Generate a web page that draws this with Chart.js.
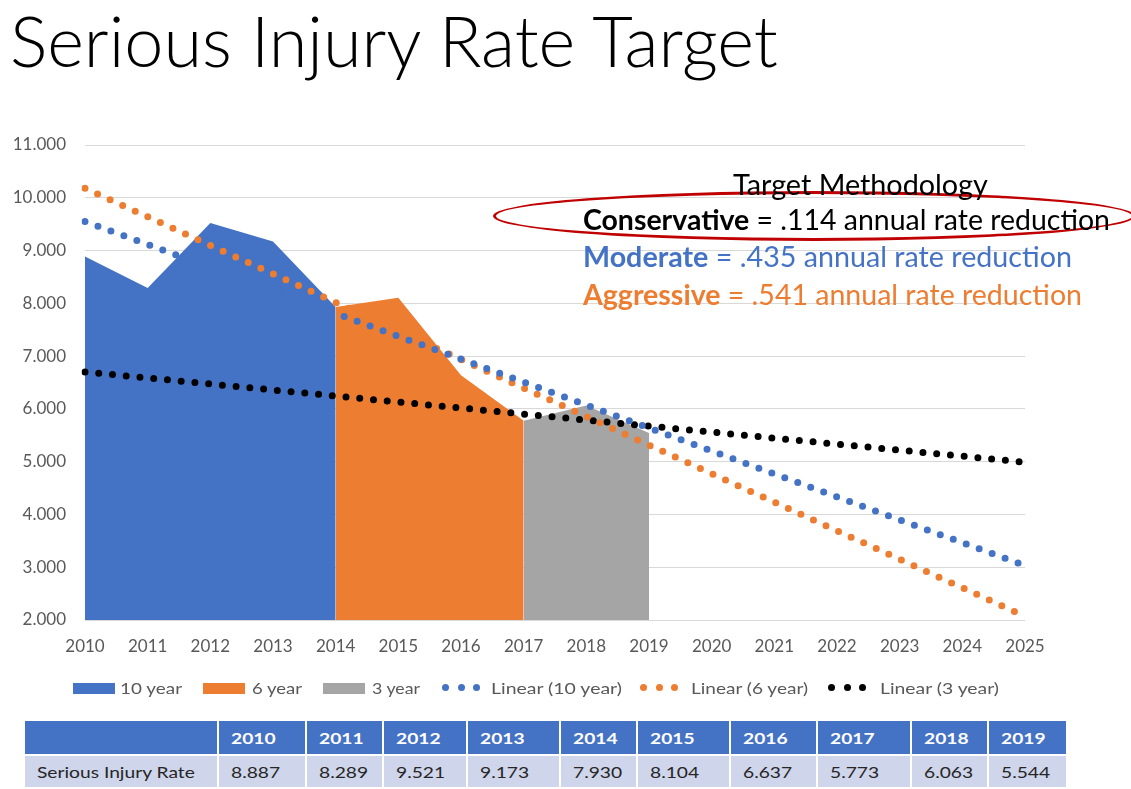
<!DOCTYPE html>
<html>
<head>
<meta charset="utf-8">
<script src="https://cdn.jsdelivr.net/npm/chart.js@4.4.1/dist/chart.umd.min.js"></script>
<style>
  html, body { margin: 0; padding: 0; background: #fff; }
  #page { position: relative; width: 1131px; height: 789px; overflow: hidden; font-family: Lato, "Open Sans", sans-serif; }
  #title { position: absolute; left: 10px; top: 2px; font-size: 64px; font-weight: 300; color: #000; white-space: nowrap; line-height: 1.1; }
  #chartBox { position: absolute; left: 0; top: 0; width: 1131px; height: 700px; }
  .note { position: absolute; white-space: nowrap; font-size: 24px; line-height: 1; }
  #ellipse { position: absolute; left: 493px; top: 191px; width: 642px; height: 50px; border: 3px solid #C00000; border-radius: 50%; box-sizing: border-box; }
  .leg { position: absolute; top: 678px; font-size: 16px; color: #595959; white-space: nowrap; line-height: 20px; transform-origin: left center; }
  .box { position: absolute; top: 683px; height: 11px; width: 42px; }
  .dot { position: absolute; top: 684px; width: 7px; height: 7px; border-radius: 50%; }
  #tbl { position: absolute; left: 23px; top: 719px; border-collapse: collapse; font-size: 16px; table-layout: fixed; }
  #tbl td { border: 2px solid #fff; padding: 0 0 0 12px; white-space: nowrap; overflow: hidden; }
  #tbl td span { display: inline-block; transform: scaleX(1.2); transform-origin: left center; }
  #tbl tr.h td { background: #4472C4; color: #fff; font-weight: bold; height: 33px; }
  #tbl tr.d td { background: #CFD5EA; color: #262626; height: 31px; }
</style>
</head>
<body>
<div id="page">
  <div id="chartBox"><canvas id="chart"></canvas></div>
  <div id="title" data-w="768">Serious Injury Rate Target</div>

  <div id="ellipse"></div>
  <div class="note" id="nTitle" style="left:733px; top:170px; color:#000; font-size:22px;" data-w="255">Target Methodology</div>
  <div class="note" style="left:583px; top:205px; color:#000;" data-w="527"><b>Conservative</b> = .114 annual rate reduction</div>
  <div class="note" style="left:583px; top:242px; color:#4472C4;" data-w="489"><b>Moderate</b> = .435 annual rate reduction</div>
  <div class="note" style="left:583px; top:280px; color:#ED7D31;" data-w="499"><b>Aggressive</b> = .541 annual rate reduction</div>

  <div id="legend"></div>
  <table id="tbl"></table>
</div>
<script>
// chart values
const years = ["2010","2011","2012","2013","2014","2015","2016","2017","2018","2019","2020","2021","2022","2023","2024","2025"];
const injuryRate = [8.887, 8.289, 9.521, 9.173, 7.930, 8.104, 6.637, 5.773, 6.063, 5.544];
const tenYear   = [8.887, 8.289, 9.521, 9.173, 7.930, null, null, null, null, null, null, null, null, null, null, null];
const sixYear   = [null, null, null, null, 7.930, 8.104, 6.637, 5.773, null, null, null, null, null, null, null, null];
const threeYear = [null, null, null, null, null, null, null, 5.773, 6.063, 5.544, null, null, null, null, null, null];
// trend lines read at both ends (2010, 2025)
const linear10 = [9.55, null, null, null, null, null, null, null, null, null, null, null, null, null, null, 3.03];
const linear6  = [10.18, null, null, null, null, null, null, null, null, null, null, null, null, null, null, 2.07];
const linear3  = [6.70, null, null, null, null, null, null, null, null, null, null, null, null, null, null, 4.99];
const yTicks = [2, 3, 4, 5, 6, 7, 8, 9, 10, 11];

const BLUE = "#4472C4", ORANGE = "#ED7D31", GRAY = "#A5A5A5", BLACK = "#000000";
const TICK_FONT = { family: "Lato, 'Open Sans', sans-serif", size: 17 };

function areaSet(label, data, color) {
  return { label, data, backgroundColor: color, borderColor: color, borderWidth: 0,
    fill: "start", pointRadius: 0, tension: 0, order: 2, spanGaps: false };
}
function trendSet(label, data, color) {
  return { label, data, borderColor: color, backgroundColor: color, borderWidth: 7,
    borderDash: [0, 13.8], borderCapStyle: "round", fill: false, pointRadius: 0,
    spanGaps: true, tension: 0, order: 1 };
}

new Chart(document.getElementById("chart"), {
  type: "line",
  data: {
    labels: years,
    datasets: [
      trendSet("Linear (10 year)", linear10, BLUE),
      trendSet("Linear (6 year)", linear6, ORANGE),
      trendSet("Linear (3 year)", linear3, BLACK),
      areaSet("10 year", tenYear, BLUE),
      areaSet("6 year", sixYear, ORANGE),
      areaSet("3 year", threeYear, GRAY)
    ]
  },
  options: {
    responsive: true,
    maintainAspectRatio: false,
    animation: false,
    devicePixelRatio: 1,
    layout: { padding: { top: 145, right: 106, bottom: 0, left: 0 } },
    plugins: { legend: { display: false }, tooltip: { enabled: false } },
    scales: {
      x: {
        offset: false,
        grid: { display: false, drawTicks: false },
        border: { display: false },
        ticks: { color: "#595959", font: TICK_FONT, padding: 16, maxRotation: 0, autoSkip: false },
        afterFit: (s) => { s.height = 80; }
      },
      y: {
        min: 2, max: 11,
        afterBuildTicks: (s) => { s.ticks = yTicks.map(v => ({ value: v })); },
        grid: { color: "#D9D9D9", lineWidth: 1, drawTicks: false },
        border: { display: false },
        ticks: { color: "#595959", font: TICK_FONT, padding: 19,
          callback: (v) => Number(v).toFixed(3) },
        afterFit: (s) => { s.width = 85; }
      }
    }
  }
});

// legend
const legendItems = [
  { kind: "box", color: BLUE, x: 73, text: "10 year", tx: 120, w: 62 },
  { kind: "box", color: ORANGE, x: 203, text: "6 year", tx: 252, w: 50 },
  { kind: "box", color: GRAY, x: 323, text: "3 year", tx: 372, w: 48 },
  { kind: "dots", color: BLUE, x: 442, text: "Linear (10 year)", tx: 491, w: 131 },
  { kind: "dots", color: ORANGE, x: 640, text: "Linear (6 year)", tx: 691, w: 117 },
  { kind: "dots", color: BLACK, x: 828, text: "Linear (3 year)", tx: 880, w: 119 }
];
const leg = document.getElementById("legend");
legendItems.forEach(it => {
  if (it.kind === "box") {
    const b = document.createElement("div");
    b.className = "box"; b.style.left = it.x + "px"; b.style.background = it.color;
    leg.appendChild(b);
  } else {
    for (let i = 0; i < 3; i++) {
      const d = document.createElement("div");
      d.className = "dot"; d.style.left = (it.x + i * 15.5) + "px"; d.style.background = it.color;
      leg.appendChild(d);
    }
  }
  const t = document.createElement("div");
  t.className = "leg"; t.style.left = it.tx + "px"; t.textContent = it.text;
  t.dataset.sx = it.w;
  leg.appendChild(t);
});

// table
const colWidths = [194, 88, 77, 84, 93, 77, 93, 87, 94, 77, 79];
const tbl = document.getElementById("tbl");
const cg = document.createElement("colgroup");
colWidths.forEach(w => { const c = document.createElement("col"); c.style.width = w + "px"; cg.appendChild(c); });
tbl.appendChild(cg);
function cell(tr, txt) {
  const td = document.createElement("td");
  if (txt) { const s = document.createElement("span"); s.textContent = txt; td.appendChild(s); }
  tr.appendChild(td);
}
const hr = document.createElement("tr"); hr.className = "h";
cell(hr, "");
years.slice(0, injuryRate.length).forEach(y => cell(hr, y));
tbl.appendChild(hr);
const dr = document.createElement("tr"); dr.className = "d";
cell(dr, "Serious Injury Rate");
injuryRate.forEach(v => cell(dr, v.toFixed(3)));
tbl.appendChild(dr);

// fit texts to the widths seen in the reference
function fitAll() {
  document.querySelectorAll("[data-w]").forEach(el => {
    el.style.display = "inline-block";
    const w = el.getBoundingClientRect().width;
    const fs = parseFloat(getComputedStyle(el).fontSize);
    if (w > 0) el.style.fontSize = (fs * Number(el.dataset.w) / w).toFixed(2) + "px";
  });
  document.querySelectorAll("[data-sx]").forEach(el => {
    el.style.display = "inline-block";
    const w = el.getBoundingClientRect().width;
    if (w > 0) el.style.transform = "scaleX(" + (Number(el.dataset.sx) / w).toFixed(3) + ")";
  });
}
fitAll();
</script>
</body>
</html>
